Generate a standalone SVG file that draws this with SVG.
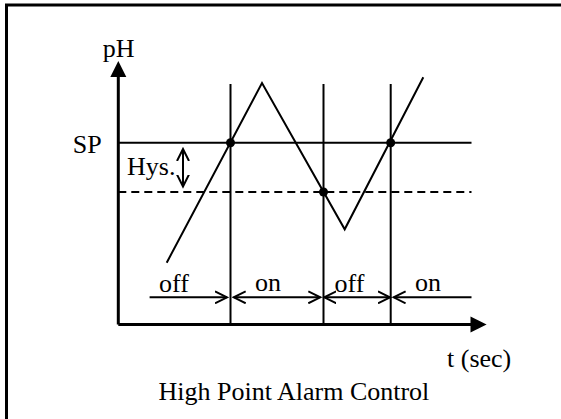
<svg xmlns="http://www.w3.org/2000/svg" width="561" height="419" viewBox="0 0 561 419">
<style>
text{font-family:"Liberation Serif","Times New Roman",serif;font-size:26px;fill:#000}
.ln{stroke:#000;stroke-width:2;fill:none}
.ax{stroke:#000;stroke-width:3;fill:none}
.dot{fill:#000}
</style>
<defs>
<marker id="oa" markerUnits="userSpaceOnUse" markerWidth="14" markerHeight="14" refX="12" refY="6" orient="auto-start-reverse" viewBox="0 0 14 12">
<path d="M0,0 L12,6 L0,12" fill="none" stroke="#000" stroke-width="2"/>
</marker>
</defs>
<rect x="6.5" y="5" width="600" height="450" fill="none" stroke="#000" stroke-width="3"/>
<g id="axes">
<line class="ax" x1="118.3" y1="324.5" x2="118.3" y2="75"/>
<polygon points="118.3,61 110.3,77 126.3,77" fill="#000"/>
<line class="ax" x1="118.3" y1="324.5" x2="472" y2="324.5"/>
<polygon points="486.6,324.5 470.5,316.5 470.5,332.5" fill="#000"/>
<text x="102.7" y="57">pH</text>
<text x="447" y="367">t (sec)</text>
</g>
<g id="levels">
<line class="ln" x1="118.3" y1="142.7" x2="471.5" y2="142.7"/>
<line class="ln" x1="118.3" y1="192" x2="471.5" y2="192" stroke-dasharray="8 5"/>
<text x="72.7" y="153">SP</text>
<text x="127" y="175">Hys.</text>
</g>
<g id="connectors">
<line class="ln" x1="230.5" y1="84" x2="230.5" y2="324.5"/>
<line class="ln" x1="323.5" y1="84" x2="323.5" y2="324.5"/>
<line class="ln" x1="390.7" y1="84" x2="390.7" y2="324.5"/>
<polyline class="ln" points="166.7,262.7 262,83 344.7,229.3 423.3,77.3"/>
<line class="ln" x1="183" y1="149" x2="183" y2="186.5" marker-start="url(#oa)" marker-end="url(#oa)"/>
<line class="ln" x1="149.6" y1="297.3" x2="227" y2="297.3" marker-end="url(#oa)"/>
<line class="ln" x1="233.7" y1="297.3" x2="320.3" y2="297.3" marker-start="url(#oa)" marker-end="url(#oa)"/>
<line class="ln" x1="324.3" y1="297.3" x2="390" y2="297.3" marker-start="url(#oa)" marker-end="url(#oa)"/>
<line class="ln" x1="393.6" y1="297.3" x2="471.5" y2="297.3" marker-start="url(#oa)"/>
</g>
<g id="points">
<circle class="dot" cx="230.5" cy="142.7" r="4.5"/>
<circle class="dot" cx="323.5" cy="192" r="4.5"/>
<circle class="dot" cx="390.7" cy="142.7" r="4.5"/>
</g>
<g id="labels">
<text x="159" y="292">off</text>
<text x="255" y="291">on</text>
<text x="334.5" y="292">off</text>
<text x="415" y="291">on</text>
<text x="158.5" y="400">High Point Alarm Control</text>
</g>
</svg>
